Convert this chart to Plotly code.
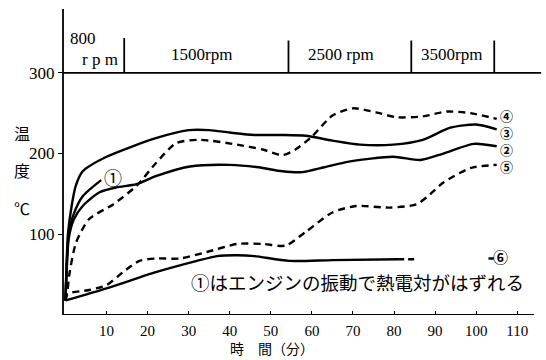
import plotly.graph_objects as go

# ---- data (time in minutes, temperature in °C) ----
c3_t = [0, 0.25, 0.6, 1.5, 2.5, 4.2, 10, 22, 30, 35, 40, 46, 52.8, 58.5, 65, 71.7, 79.8, 87, 93.7, 100, 105]
c3_T = [18, 60, 100, 135, 160, 178, 196, 219, 229, 229, 226, 223, 223, 222, 216, 211, 211, 217, 232, 236, 230]

c1_t = [0, 0.25, 0.6, 1, 2, 4.2, 8.7]
c1_T = [18, 55, 90, 106, 125, 147, 167]

c2_t = [0, 0.3, 0.8, 2, 4.2, 8.3, 12.4, 17.3, 22, 30.3, 40, 47, 52.8, 57.7, 63, 69, 79.8, 86.4, 92, 99.4, 105]
c2_T = [18, 55, 95, 118, 135, 152, 158, 162, 172, 184, 186, 183, 178, 177, 183, 190, 196, 192, 200, 212, 209]

c4_t = [0, 0.5, 0.9, 2.6, 5.8, 11.6, 17.3, 22, 27, 32.7, 41.8, 48, 52.8, 56, 60, 65, 70, 75.6, 80.5, 87, 92.8, 98.6, 105]
c4_T = [18, 30, 49, 90, 119, 137, 160, 188, 213, 217, 211, 205, 198, 205, 221, 247, 256, 251, 245, 246, 252, 250, 243]

c5_t = [0, 0.5, 5.8, 10, 14, 18, 22, 27.8, 34.4, 41.8, 48, 53.6, 58.5, 65, 70.7, 79, 85.4, 88, 92, 98.6, 105]
c5_T = [18, 26, 31, 37, 53, 67, 70, 70, 78, 88, 88, 86, 103, 127, 135, 133, 137, 146, 164, 182, 186]

c6_t = [0, 10, 22, 32, 36.9, 41.8, 46, 54.5, 65, 81]
c6_T = [18, 33, 53, 67, 73, 74, 73, 67, 68, 69]
c6_tail_t = [81, 85]
c6_tail_T = [69, 69]
c6_end_t = [103, 104.3]
c6_end_T = [70, 70]

rpm_bounds = [14.3, 54.3, 84.2, 104.4]
rpm_labels = ["1500rpm", "2500 rpm", "3500rpm"]
rpm_label_t = [33, 67, 94]

x_ticks = [10, 20, 30, 40, 50, 60, 70, 80, 90, 100, 110]
y_ticks = [100, 200, 300]

end_labels = ["④", "③", "②", "⑤"]
end_label_T = [247, 226, 205, 184]

SERIF = "Liberation Serif, Times New Roman, serif"
JP = "Noto Sans CJK JP"
LW = 2.4

fig = go.Figure()

def add(t, T, dash="solid"):
    fig.add_trace(go.Scatter(x=t, y=T, mode="lines",
                             line=dict(color="black", width=LW, dash=dash,
                                       shape="spline", smoothing=0.7),
                             hoverinfo="skip", showlegend=False))

add(c3_t, c3_T)
add(c1_t, c1_T)
add(c2_t, c2_T)
add(c4_t, c4_T, "7px,5px")
add(c5_t, c5_T, "7px,5px")
add(c6_t, c6_T)
add(c6_tail_t, c6_tail_T, "6px,4px")
add(c6_end_t, c6_end_T)

shapes = []
shapes.append(dict(type="line", xref="paper", yref="y", x0=0, x1=0, y0=0, y1=379,
                   line=dict(color="black", width=1.8)))
shapes.append(dict(type="line", xref="paper", yref="y", x0=0, x1=0.975, y0=0, y1=0,
                   line=dict(color="black", width=1.8)))
shapes.append(dict(type="line", xref="paper", yref="y", x0=0, x1=0.99, y0=300, y1=300,
                   line=dict(color="black", width=1.8)))
for i, b in enumerate(rpm_bounds):
    shapes.append(dict(type="line", xref="x", yref="y", x0=b, x1=b, y0=300,
                       y1=343 if i == 0 else 340, line=dict(color="black", width=1.8)))

ann = []
ann.append(dict(x=0.6, y=343, xref="x", yref="y", text="800", showarrow=False,
                xanchor="left", font=dict(family=SERIF, size=17, color="black")))
ann.append(dict(x=8.3, y=316, xref="x", yref="y", text="r p m", showarrow=False,
                font=dict(family=SERIF, size=17, color="black")))
for lab, t in zip(rpm_labels, rpm_label_t):
    ann.append(dict(x=t, y=323, xref="x", yref="y", text=lab, showarrow=False,
                    font=dict(family=SERIF, size=17, color="black")))
for lab, T in zip(end_labels, end_label_T):
    ann.append(dict(x=107.3, y=T, xref="x", yref="y", text="<b>" + lab + "</b>", showarrow=False,
                    yanchor="middle", borderpad=0,
                    font=dict(family=JP, size=13, color="black")))
ann.append(dict(x=106, y=73, xref="x", yref="y", text="<b>⑥</b>", showarrow=False,
                font=dict(family=JP, size=15, color="black")))
ann.append(dict(x=11.6, y=171, xref="x", yref="y", text="①", showarrow=False,
                font=dict(family=JP, size=18, color="black")))
ann.append(dict(x=71.2, y=41, xref="x", yref="y", text="①はエンジンの振動で熱電対がはずれる",
                showarrow=False, font=dict(family=JP, size=18.5, color="black")))
for ch, T in zip(["温", "度", "℃"], [225.5, 179.7, 132.6]):
    ann.append(dict(x=-0.085, y=T, xref="paper", yref="y", text=ch, showarrow=False,
                    xanchor="center", yanchor="middle",
                    font=dict(family=JP, size=16, color="black")))
ann.append(dict(x=50.3, y=-0.108, xref="x", yref="paper", text="時　間（分）", showarrow=False,
                xanchor="center", yanchor="middle", borderpad=0,
                font=dict(family=JP, size=14, color="black")))

fig.update_layout(
    width=546, height=360,
    margin=dict(l=63, r=0, t=5, b=45, autoexpand=False),
    paper_bgcolor="white", plot_bgcolor="white",
    shapes=shapes, annotations=ann,
    xaxis=dict(range=[-0.6, 117], tickvals=x_ticks, ticktext=[str(v) for v in x_ticks],
               ticks="inside", ticklen=4, tickcolor="black", showgrid=False, zeroline=False,
               showline=False, automargin=False, ticklabelstandoff=5,
               tickfont=dict(family=SERIF, size=15, color="black")),
    yaxis=dict(range=[0, 384], tickvals=y_ticks, ticks="outside", ticklen=4, tickcolor="black",
               showgrid=False, zeroline=False, showline=False, automargin=False,
               tickfont=dict(family=SERIF, size=17, color="black")),
)

fig.write_html("out.html", config={"displayModeBar": False},
               post_script="document.body.style.margin='0';document.body.style.padding='0';")
